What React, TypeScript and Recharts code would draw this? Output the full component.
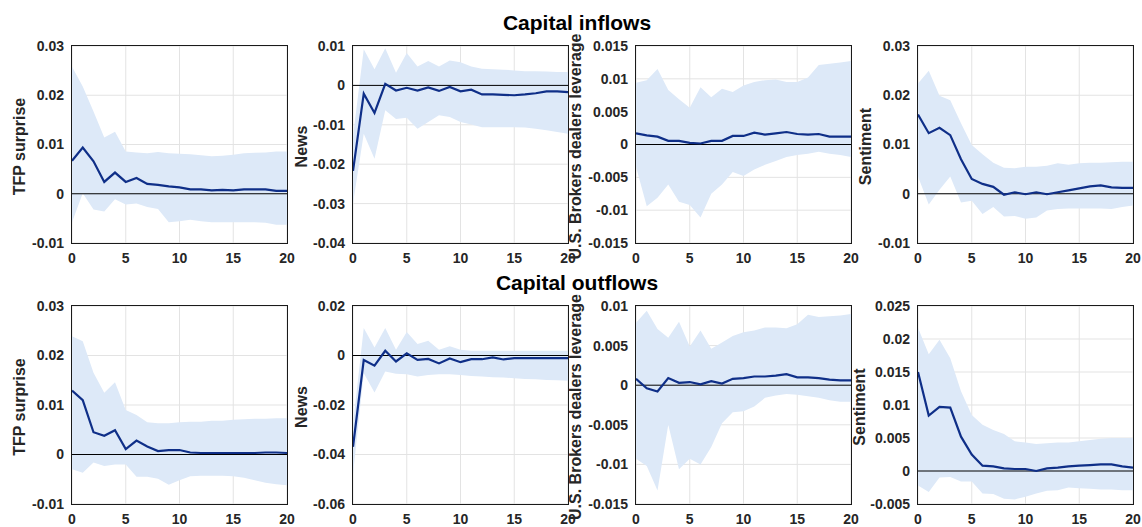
import React from 'react';
import { ComposedChart, Area, Line, XAxis, YAxis, CartesianGrid, ReferenceLine } from 'recharts';

// ---------- data ----------
const horizons = [0,1,2,3,4,5,6,7,8,9,10,11,12,13,14,15,16,17,18,19,20];
const xTicks = [0, 5, 10, 15, 20];
const xTickLabels = ['0', '5', '10', '15', '20'];

const rowTitles = ['Capital inflows', 'Capital outflows'];
const panelLabels = ['TFP surprise', 'News', 'U.S. Brokers dealers leverage', 'Sentiment'];

// Capital inflows
const tfpInLine = [0.0067,0.0094,0.0066,0.0024,0.0043,0.0024,0.0032,0.0020,0.0018,0.0015,0.0013,0.0009,0.0009,0.0007,0.0008,0.0007,0.0009,0.0009,0.0009,0.0006,0.0006];
const tfpInHi = [0.0258,0.0218,0.0167,0.0114,0.0126,0.0086,0.0084,0.0082,0.0085,0.0082,0.0081,0.0080,0.0078,0.0076,0.0077,0.0079,0.0082,0.0083,0.0084,0.0086,0.0086];
const tfpInLo = [-0.0058,0.0001,-0.0032,-0.0036,-0.0011,-0.0022,-0.0020,-0.0027,-0.0031,-0.0058,-0.0056,-0.0053,-0.0056,-0.0058,-0.0058,-0.0058,-0.0058,-0.0058,-0.0059,-0.0063,-0.0063];

const newsInLine = [-0.0217,-0.0021,-0.0070,0.0004,-0.0013,-0.0006,-0.0013,-0.0005,-0.0014,-0.0004,-0.0015,-0.0011,-0.0023,-0.0023,-0.0024,-0.0025,-0.0023,-0.0020,-0.0015,-0.0015,-0.0017];
const newsInHi = [-0.0130,0.0092,0.0041,0.0094,0.0032,0.0082,0.0048,0.0062,0.0048,0.0063,0.0059,0.0048,0.0042,0.0041,0.0040,0.0038,0.0036,0.0036,0.0035,0.0034,0.0034];
const newsInLo = [-0.0300,-0.0123,-0.0186,-0.0063,-0.0085,-0.0082,-0.0110,-0.0093,-0.0076,-0.0080,-0.0093,-0.0099,-0.0106,-0.0106,-0.0106,-0.0106,-0.0107,-0.0110,-0.0114,-0.0118,-0.0123];

const levInLine = [0.0017,0.0014,0.0012,0.00056,0.00056,0.00025,0.00015,0.00056,0.00056,0.0013,0.0013,0.0018,0.0015,0.0017,0.0019,0.0016,0.0015,0.0016,0.0012,0.0012,0.0012];
const levInHi = [0.0094,0.0098,0.0115,0.0083,0.0069,0.0056,0.0087,0.0072,0.0085,0.0080,0.0090,0.0095,0.0098,0.0099,0.0095,0.0095,0.0102,0.0121,0.0123,0.0125,0.0127];
const levInLo = [-0.0034,-0.0094,-0.0081,-0.0061,-0.0087,-0.0092,-0.0111,-0.0075,-0.0061,-0.0042,-0.0048,-0.0038,-0.0031,-0.0025,-0.0019,-0.0016,-0.0014,-0.0011,-0.0014,-0.0016,-0.0019];

const sentInLine = [0.0161,0.0123,0.0134,0.0119,0.0070,0.0030,0.0020,0.0014,-0.0002,0.0003,-0.0001,0.0003,-0.0001,0.0003,0.0007,0.0011,0.0015,0.0017,0.0013,0.0012,0.0012];
const sentInHi = [0.0224,0.0250,0.0199,0.0190,0.0143,0.0099,0.0080,0.0063,0.0053,0.0052,0.0055,0.0055,0.0057,0.0062,0.0059,0.0062,0.0063,0.0063,0.0064,0.0065,0.0065];
const sentInLo = [0.0035,-0.0022,0.0008,0.0035,-0.0018,-0.0014,-0.0041,-0.0027,-0.0046,-0.0045,-0.0051,-0.0048,-0.0034,-0.0031,-0.0030,-0.0030,-0.0030,-0.0030,-0.0031,-0.0027,-0.0024];

// Capital outflows
const tfpOutLine = [0.0129,0.0110,0.0045,0.0038,0.0049,0.0011,0.0028,0.0016,0.0007,0.0009,0.0009,0.0004,0.0003,0.0003,0.0003,0.0003,0.0003,0.0003,0.0004,0.0004,0.0003];
const tfpOutHi = [0.0239,0.0229,0.0165,0.0125,0.0146,0.0090,0.0080,0.0065,0.0063,0.0063,0.0065,0.0066,0.0066,0.0068,0.0068,0.0070,0.0071,0.0072,0.0072,0.0073,0.0073];
const tfpOutLo = [-0.0030,-0.0037,-0.0016,-0.0023,-0.0020,-0.0020,-0.0045,-0.0045,-0.0049,-0.0061,-0.0052,-0.0044,-0.0043,-0.0043,-0.0043,-0.0044,-0.0047,-0.0052,-0.0057,-0.0060,-0.0062];

const newsOutLine = [-0.0369,-0.0018,-0.0041,0.0019,-0.0024,0.0009,-0.0018,-0.0014,-0.0032,-0.0012,-0.0027,-0.0015,-0.0015,-0.0008,-0.0016,-0.0011,-0.0011,-0.0011,-0.0011,-0.0011,-0.0011];
const newsOutHi = [-0.0280,0.0111,0.0032,0.0111,0.0023,0.0095,0.0046,0.0060,0.0023,0.0037,0.0023,0.0019,0.0019,0.0019,0.0019,0.0019,0.0019,0.0019,0.0019,0.0019,0.0019];
const newsOutLo = [-0.0480,-0.0072,-0.0149,-0.0065,-0.0074,-0.0076,-0.0085,-0.0079,-0.0076,-0.0076,-0.0079,-0.0083,-0.0085,-0.0088,-0.0089,-0.0092,-0.0095,-0.0096,-0.0099,-0.0100,-0.0102];

const levOutLine = [0.0008,-0.0004,-0.0008,0.0009,0.0003,0.0004,0.0001,0.0005,0.0002,0.0008,0.0009,0.0011,0.0011,0.0012,0.0014,0.0010,0.0010,0.0009,0.0007,0.0006,0.0006];
const levOutHi = [0.0079,0.0094,0.0071,0.0060,0.0080,0.0049,0.0069,0.0046,0.0054,0.0062,0.0067,0.0069,0.0073,0.0073,0.0072,0.0077,0.0089,0.0086,0.0087,0.0088,0.0090];
const levOutLo = [-0.0093,-0.0102,-0.0133,-0.0050,-0.0106,-0.0093,-0.0100,-0.0078,-0.0048,-0.0034,-0.0033,-0.0027,-0.0016,-0.0013,-0.0011,-0.0012,-0.0014,-0.0016,-0.0019,-0.0021,-0.0021];

const sentOutLine = [0.0150,0.0084,0.0097,0.0096,0.0052,0.0025,0.0008,0.0007,0.0004,0.0003,0.0003,0.0000,0.0004,0.0005,0.0007,0.0008,0.0009,0.0010,0.0010,0.0007,0.0005];
const sentOutHi = [0.0217,0.0177,0.0199,0.0171,0.0121,0.0085,0.0070,0.0062,0.0056,0.0045,0.0043,0.0041,0.0042,0.0043,0.0043,0.0045,0.0047,0.0049,0.0050,0.0050,0.0050];
const sentOutLo = [-0.0022,-0.0032,-0.0010,-0.0009,-0.0016,-0.0016,-0.0034,-0.0035,-0.0042,-0.0043,-0.0039,-0.0034,-0.0030,-0.0029,-0.0025,-0.0026,-0.0027,-0.0028,-0.0028,-0.0029,-0.0029];

// y ticks and labels
const yTicksA = [-0.01, 0, 0.01, 0.02, 0.03];
const yLabelsA = ['-0.01', '0', '0.01', '0.02', '0.03'];
const yTicksNewsIn = [-0.04, -0.03, -0.02, -0.01, 0, 0.01];
const yLabelsNewsIn = ['-0.04', '-0.03', '-0.02', '-0.01', '0', '0.01'];
const yTicksLevIn = [-0.015, -0.01, -0.005, 0, 0.005, 0.01, 0.015];
const yLabelsLevIn = ['-0.015', '-0.01', '-0.005', '0', '0.005', '0.01', '0.015'];
const yTicksNewsOut = [-0.06, -0.04, -0.02, 0, 0.02];
const yLabelsNewsOut = ['-0.06', '-0.04', '-0.02', '0', '0.02'];
const yTicksLevOut = [-0.015, -0.01, -0.005, 0, 0.005, 0.01];
const yLabelsLevOut = ['-0.015', '-0.01', '-0.005', '0', '0.005', '0.01'];
const yTicksSentOut = [-0.005, 0, 0.005, 0.01, 0.015, 0.02, 0.025];
const yLabelsSentOut = ['-0.005', '0', '0.005', '0.01', '0.015', '0.02', '0.025'];

// ---------- styling / layout ----------
const FONT = '"Liberation Sans", Arial, Helvetica, sans-serif';
const BAND = '#dde9f8';
const LINE = '#0f2f88';
const AXIS = '#262626';
const BOX = '#1a1a1a';
const GRID = '#e3e3e3';

const colLefts = [72, 353, 636, 918];
const plotW = 215;
const rowTops = [46, 306];
const rowHeights = [197, 198];
const labelOffsets = [53, 52, 61, 53];
const labelOffsetsOut = [53, 52, 61, 59];

const ML = 70, MT = 10, MR = 12, MB = 30;

type PanelProps = {
  left: number; top: number; h: number;
  line: number[]; hi: number[]; lo: number[];
  ticks: number[]; tickLabels: string[];
};

function Panel({ left, top, h, line, hi, lo, ticks, tickLabels }: PanelProps) {
  const data = horizons.map((x, i) => ({ x, line: line[i], band: [lo[i], hi[i]] }));
  const yMin = ticks[0];
  const yMax = ticks[ticks.length - 1];
  const tickStyle = { fill: AXIS, fontSize: 14, fontWeight: 700, fontFamily: FONT };
  return (
    <div style={{ position: 'absolute', left: left - ML, top: top - MT }}>
      <ComposedChart width={ML + plotW + MR} height={MT + h + MB} data={data}
        margin={{ top: MT, right: MR, bottom: 0, left: 0 }}>
        <CartesianGrid stroke={GRID} strokeWidth={1} />
        <XAxis dataKey="x" type="number" domain={[0, 20]} ticks={xTicks}
          tickFormatter={(v: number, i: number) => xTickLabels[i]}
          axisLine={false} tickLine={false} tickSize={0} tickMargin={10} height={MB}
          tick={tickStyle} interval={0} allowDataOverflow />
        <YAxis type="number" domain={[yMin, yMax]} ticks={ticks}
          tickFormatter={(v: number, i: number) => tickLabels[i]}
          axisLine={false} tickLine={false} tickSize={0} tickMargin={8} width={ML}
          tick={tickStyle} interval={0} allowDataOverflow />
        <Area type="linear" dataKey="band" fill={BAND} fillOpacity={1} stroke="none"
          isAnimationActive={false} activeDot={false} dot={false} />
        <ReferenceLine y={0} stroke="#000000" strokeWidth={1} />
        <Line type="linear" dataKey="line" stroke={LINE} strokeWidth={2.2} dot={false}
          activeDot={false} isAnimationActive={false} />
      </ComposedChart>
    </div>
  );
}

const rows = [
  [
    { line: tfpInLine, hi: tfpInHi, lo: tfpInLo, ticks: yTicksA, tickLabels: yLabelsA },
    { line: newsInLine, hi: newsInHi, lo: newsInLo, ticks: yTicksNewsIn, tickLabels: yLabelsNewsIn },
    { line: levInLine, hi: levInHi, lo: levInLo, ticks: yTicksLevIn, tickLabels: yLabelsLevIn },
    { line: sentInLine, hi: sentInHi, lo: sentInLo, ticks: yTicksA, tickLabels: yLabelsA },
  ],
  [
    { line: tfpOutLine, hi: tfpOutHi, lo: tfpOutLo, ticks: yTicksA, tickLabels: yLabelsA },
    { line: newsOutLine, hi: newsOutHi, lo: newsOutLo, ticks: yTicksNewsOut, tickLabels: yLabelsNewsOut },
    { line: levOutLine, hi: levOutHi, lo: levOutLo, ticks: yTicksLevOut, tickLabels: yLabelsLevOut },
    { line: sentOutLine, hi: sentOutHi, lo: sentOutLo, ticks: yTicksSentOut, tickLabels: yLabelsSentOut },
  ],
];

export default function App() {
  return (
    <div style={{ position: 'absolute', left: 0, top: 0, width: 1142, height: 527, background: '#fff', overflow: 'hidden' }}>
      {rows.map((row, r) =>
        row.map((p, c) => (
          <Panel key={`${r}-${c}`} left={colLefts[c]} top={rowTops[r]} h={rowHeights[r]} {...p} />
        ))
      )}
      {rowTops.map((top, r) =>
        colLefts.map((left, c) => (
          <div key={`frame-${r}-${c}`} style={{
            position: 'absolute', left: left - 1, top: top - 1,
            width: plotW + 2, height: rowHeights[r] + 2,
            border: `1.5px solid ${BOX}`, boxSizing: 'border-box', pointerEvents: 'none'
          }} />
        ))
      )}
      <svg width={1142} height={527} style={{ position: 'absolute', left: 0, top: 0, pointerEvents: 'none' }}>
        {rowTitles.map((t, r) => (
          <text key={t} x={577} y={r === 0 ? 30 : 290} textAnchor="middle"
            style={{ fontFamily: FONT, fontSize: 21, fontWeight: 700, fill: '#000' }}>{t}</text>
        ))}
        {rowTops.map((top, r) =>
          panelLabels.map((lab, c) => {
            const cx = colLefts[c] - (r === 0 ? labelOffsets[c] : labelOffsetsOut[c]);
            const cy = top + rowHeights[r] / 2 + 2;
            return (
              <text key={`${r}-${lab}`} transform={`translate(${cx},${cy}) rotate(-90)`}
                textAnchor="middle" dominantBaseline="central"
                style={{ fontFamily: FONT, fontSize: 16, fontWeight: 700, fill: AXIS }}>{lab}</text>
            );
          })
        )}
      </svg>
    </div>
  );
}
